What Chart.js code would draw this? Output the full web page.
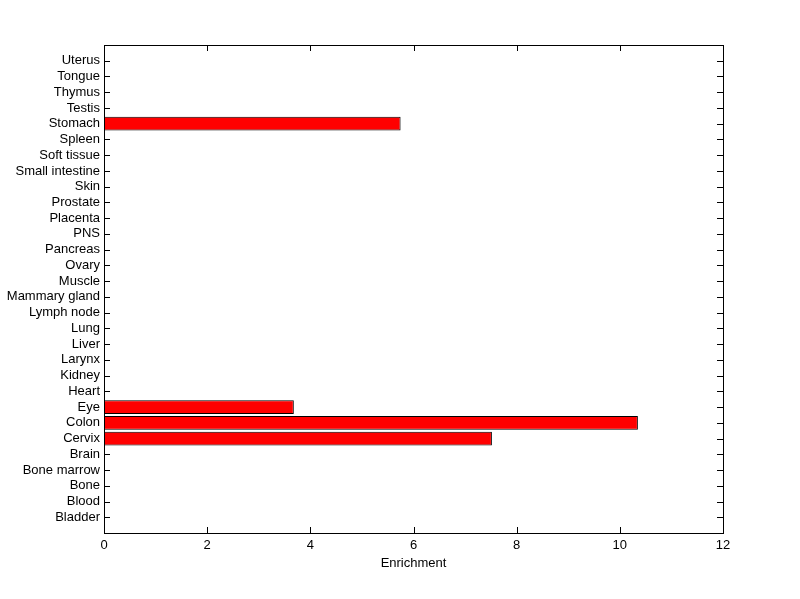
<!DOCTYPE html>
<html>
<head>
<meta charset="utf-8">
<script src="https://cdn.jsdelivr.net/npm/chart.js@4"></script>
<style>
  html, body { margin: 0; padding: 0; background: #fff; }
  #wrap { width: 800px; height: 599px; }
</style>
</head>
<body>
<div id="wrap"><canvas id="chart-enrichment" width="800" height="599"></canvas></div>
<script>
// categorias de abajo hacia arriba
const categories = ['Bladder', 'Blood', 'Bone', 'Bone marrow', 'Brain', 'Cervix', 'Colon', 'Eye',
    'Heart', 'Kidney', 'Larynx', 'Liver', 'Lung', 'Lymph node', 'Mammary gland', 'Muscle', 'Ovary',
    'Pancreas', 'PNS', 'Placenta', 'Prostate', 'Skin', 'Small intestine', 'Soft tissue', 'Spleen',
    'Stomach', 'Testis', 'Thymus', 'Tongue', 'Uterus'];
const enrichment = [0, 0, 0, 0, 0, 7.52, 10.35, 3.68,
    0, 0, 0, 0, 0, 0, 0, 0, 0,
    0, 0, 0, 0, 0, 0, 0, 0,
    5.75, 0, 0, 0, 0];
const xTicks = [0, 2, 4, 6, 8, 10, 12];

const FONT = { family: '"Liberation Sans", Arial, Helvetica, sans-serif', size: 13 };

// Marco y marcas hacia dentro, estilo MATLAB
const boxPlugin = {
    id: 'boxTicks',
    beforeDatasetsDraw(chart) {
        const { ctx, chartArea: a, scales } = chart;
        const len = 6;
        ctx.save();
        ctx.strokeStyle = '#000';
        ctx.lineWidth = 1;
        ctx.beginPath();
        scales.y.ticks.forEach(t => {
            const y = Math.round(scales.y.getPixelForValue(t.value)) + 0.5;
            ctx.moveTo(a.left, y); ctx.lineTo(a.left + len, y);
            ctx.moveTo(a.right, y); ctx.lineTo(a.right - len, y);
        });
        xTicks.forEach(v => {
            const x = Math.round(scales.x.getPixelForValue(v)) + 0.5;
            ctx.moveTo(x, a.bottom); ctx.lineTo(x, a.bottom - len);
            ctx.moveTo(x, a.top); ctx.lineTo(x, a.top + len);
        });
        ctx.stroke();
        ctx.restore();
    },
    afterDatasetsDraw(chart) {
        const { ctx, chartArea: a } = chart;
        ctx.save();
        ctx.strokeStyle = '#000';
        ctx.lineWidth = 1;
        ctx.strokeRect(Math.round(a.left) + 0.5, Math.round(a.top) + 0.5,
            Math.round(a.right - a.left), Math.round(a.bottom - a.top));
        ctx.restore();
    }
};

new Chart(document.getElementById('chart-enrichment'), {
    type: 'bar',
    data: {
        datasets: [{
            label: 'Enrichment',
            data: enrichment.map((v, i) => ({ x: v, y: i + 1 })),
            backgroundColor: '#ff0000',
            borderColor: '#000000',
            borderWidth: 1,
            borderSkipped: false,
            barPercentage: 0.87,
            categoryPercentage: 1.0
        }]
    },
    options: {
        indexAxis: 'y',
        responsive: false,
        animation: false,
        layout: { padding: { top: 45, right: 77, left: 0, bottom: 0 } },
        plugins: {
            legend: { display: false },
            tooltip: { enabled: false }
        },
        scales: {
            x: {
                type: 'linear',
                min: 0,
                max: 12,
                offset: false,
                grid: { display: false, drawTicks: false },
                border: { display: false },
                afterBuildTicks: (scale) => { scale.ticks = xTicks.map(v => ({ value: v })); },
                afterFit: (scale) => { scale.height = 66; },
                ticks: { color: '#000', font: FONT, padding: 5, maxRotation: 0 },
                title: { display: true, text: 'Enrichment', color: '#000', font: FONT, padding: { top: 3, bottom: 28 } }
            },
            y: {
                type: 'linear',
                min: 0,
                max: 31,
                offset: false,
                grid: { display: false, drawTicks: false },
                border: { display: false },
                afterBuildTicks: (scale) => { scale.ticks = categories.map((c, i) => ({ value: i + 1 })); },
                afterFit: (scale) => { scale.width = 104; },
                ticks: {
                    color: '#000',
                    font: FONT,
                    padding: 4,
                    autoSkip: false,
                    callback: (v) => categories[v - 1] || ''
                }
            }
        }
    },
    plugins: [boxPlugin]
});
</script>
</body>
</html>
